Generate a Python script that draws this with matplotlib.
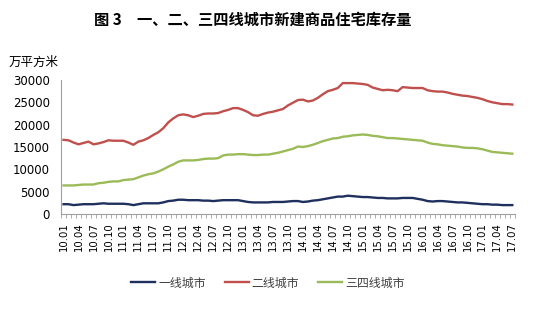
import matplotlib
matplotlib.use('Agg')
from matplotlib import pyplot as pl
import numpy as np

pl.rcParams['font.family'] = ['Noto Sans CJK SC', 'DejaVu Sans']

# monthly, 2010.01 .. 2017.07 (unit: 10k m2)
months = ['%02d.%02d' % (y, m) for y in range(10, 18) for m in range(1, 13)][:91]

tier1 = [2200, 2200, 2000, 2100, 2200, 2200, 2200, 2300, 2400, 2300,
         2300, 2300, 2300, 2200, 2000, 2200, 2400, 2400, 2400, 2400,
         2600, 2900, 3000, 3200, 3200, 3100, 3100, 3100, 3000, 3000,
         2900, 3000, 3100, 3100, 3100, 3100, 2900, 2700, 2600, 2600,
         2600, 2600, 2700, 2700, 2700, 2800, 2900, 2900, 2700, 2800,
         3000, 3100, 3300, 3500, 3700, 3900, 3900, 4100, 4000, 3900,
         3800, 3800, 3700, 3600, 3600, 3500, 3500, 3500, 3600, 3600,
         3600, 3400, 3200, 2900, 2800, 2900, 2900, 2800, 2700, 2600,
         2600, 2500, 2400, 2300, 2200, 2200, 2100, 2100, 2000, 2000,
         2000]

tier2 = [16600, 16500, 16000, 15600, 15900, 16200, 15600, 15800, 16100, 16500,
         16400, 16400, 16400, 16000, 15500, 16200, 16500, 17000, 17700, 18300,
         19200, 20500, 21400, 22100, 22300, 22100, 21700, 22000, 22400, 22500,
         22500, 22600, 23000, 23300, 23700, 23700, 23300, 22800, 22100, 22000,
         22400, 22700, 22900, 23200, 23500, 24300, 24900, 25500, 25600, 25200,
         25400, 26000, 26800, 27500, 27800, 28200, 29300, 29300, 29300, 29200,
         29100, 28900, 28300, 28000, 27700, 27800, 27700, 27500, 28400, 28300,
         28200, 28200, 28200, 27700, 27500, 27400, 27400, 27200, 26900, 26700,
         26500, 26400, 26200, 26000, 25700, 25300, 25000, 24800, 24600, 24600,
         24500]

tier34 = [6400, 6400, 6400, 6500, 6600, 6600, 6600, 6900, 7000, 7200,
          7300, 7300, 7600, 7700, 7800, 8200, 8600, 8900, 9100, 9500,
          10000, 10600, 11100, 11700, 12000, 12000, 12000, 12100, 12300, 12400,
          12400, 12500, 13100, 13300, 13300, 13400, 13400, 13300, 13200, 13200,
          13300, 13300, 13500, 13700, 14000, 14300, 14600, 15100, 15000, 15200,
          15500, 15900, 16300, 16600, 16900, 17000, 17300, 17400, 17600, 17700,
          17800, 17700, 17500, 17400, 17200, 17000, 17000, 16900, 16800, 16700,
          16600, 16500, 16400, 16000, 15700, 15600, 15400, 15300, 15200, 15100,
          14900, 14800, 14800, 14700, 14500, 14200, 13900, 13800, 13700, 13600,
          13500]

labels = ['一线城市', '二线城市', '三四线城市']
colors = ['#1F2F5E', '#C0504D', '#9BBB59']

fig = pl.figure(figsize=(5.5, 3.36), dpi=100)
ax = fig.add_axes([0.111, 0.363, 0.825, 0.399])

x = np.arange(len(months))
for data, lab, col in zip([tier1, tier2, tier34], labels, colors):
    ax.plot(x, data, color=col, linewidth=1.7, label=lab)

ax.set_xlim(-0.5, len(months) - 0.5)
ax.set_ylim(0, 30000)
ax.set_yticks(range(0, 30001, 5000))
ax.set_xticks(x[::3])
ax.set_xticklabels(months[::3], rotation=90, fontsize=7.3, family='DejaVu Sans')
ax.set_xticks(np.arange(-0.5, len(months), 1), minor=True)
ax.tick_params(axis='x', which='major', length=0, pad=6)
ax.tick_params(axis='x', which='minor', length=3, color='#A0A0A0', width=0.6)
ax.tick_params(axis='y', length=0, labelsize=8.5, pad=8)
for lbl in ax.get_yticklabels():
    lbl.set_family('DejaVu Sans')

for s in ['top', 'right']:
    ax.spines[s].set_visible(False)
for s in ['left', 'bottom']:
    ax.spines[s].set_color('#A0A0A0')
    ax.spines[s].set_linewidth(0.8)

fig.text(0.46, 0.94, '图 3　一、二、三四线城市新建商品住宅库存量',
         ha='center', va='center', fontsize=11, fontweight='bold')
fig.text(0.015, 0.815, '万平方米', ha='left', va='center', fontsize=9)

fig.legend(loc='center', bbox_to_anchor=(0.487, 0.158), ncol=3, frameon=False,
           fontsize=8.6, handlelength=2.0, columnspacing=1.6, handletextpad=0.25,
           labelcolor='#404040')

fig.savefig('out.png', dpi=100)
